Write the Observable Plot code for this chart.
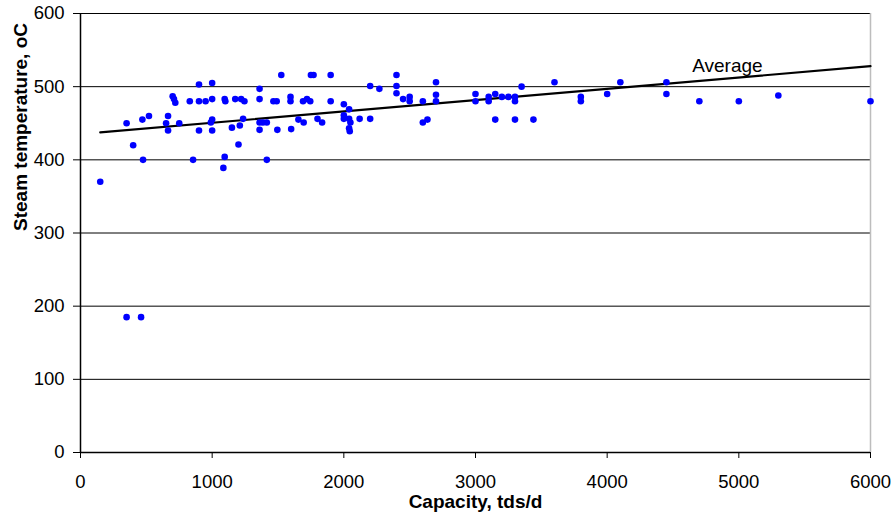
<!DOCTYPE html>
<html>
<head>
<meta charset="utf-8">
<script src="https://cdn.jsdelivr.net/npm/d3@7"></script>
<script src="https://cdn.jsdelivr.net/npm/@observablehq/plot@0.6"></script>
<style>
  html, body { margin: 0; padding: 0; background: #fff; }
</style>
</head>
<body>
<div id="chart"></div>
<script>
// Capacity (tds/d) of each boiler
const capacity = [
  150, 350, 400, 475, 470, 520, 665, 650, 665, 700, 710, 720, 750, 830, 855,
  900, 900, 900, 950, 1000, 1000, 1000, 990, 1000, 1095, 1085, 1095, 1100, 1150, 1175,
  1200, 1210, 1220, 1235, 1245, 1360, 1360, 1360, 1385, 1415, 1360, 1415, 1465, 1490, 1495,
  1525, 1750, 1770, 1900, 1595, 1595, 1600, 1655, 1695, 1690, 1720, 1745, 1800, 1835, 1900,
  2000, 2040, 2000, 2000, 2040, 2050, 2040, 2045, 2120, 2200, 2200, 2270, 2400, 2400, 2400,
  2450, 2500, 2500, 2600, 2600, 2635, 2700, 2700, 2700, 3000, 3000, 3100, 3100, 3150, 3150,
  3200, 3250, 3300, 3300, 3300, 3350, 3440, 3600, 3800, 3800, 4000, 4100, 4450, 4450, 4700,
  5000, 5300, 6000, 350, 460
];
// Steam temperature (oC) of each boiler
const steamTemp = [
  370, 450, 420, 400, 455, 460, 460, 450, 440, 487, 483, 478, 450, 480, 400,
  503, 480, 440, 480, 505, 483, 455, 451, 440, 404, 389, 483, 480, 444, 483,
  421, 447, 483, 456, 480, 497, 483, 451, 451, 451, 441, 400, 480, 480, 441,
  516, 516, 516, 516, 486, 480, 442, 455, 451, 480, 483, 480, 456, 451, 480,
  476, 469, 461, 456, 456, 451, 443, 439, 456, 456, 501, 497, 516, 501, 491,
  483, 486, 480, 480, 451, 455, 506, 489, 480, 490, 480, 486, 480, 490, 455,
  486, 486, 486, 480, 455, 500, 455, 506, 486, 480, 490, 506, 506, 490, 480,
  480, 488, 480, 185, 185
];
// "Average" trend line end points
const avgX = [150, 6000];
const avgY = [437.5, 528];
const avgLabel = "Average";
const avgLabelX = 4646;
const avgLabelY = 520.5;

const xTicks = [0, 1000, 2000, 3000, 4000, 5000, 6000];
const yTicks = [0, 100, 200, 300, 400, 500, 600];
const xTitle = "Capacity, tds/d";
const yTitle = "Steam temperature, oC";

const points = capacity.map((c, i) => ({c, t: steamTemp[i]}));
const avg = avgX.map((x, i) => ({x, y: avgY[i]}));

const chart = Plot.plot({
  width: 893,
  height: 515,
  marginLeft: 80,
  marginRight: 23,
  marginTop: 13,
  marginBottom: 63,
  style: {
    fontFamily: "'Liberation Sans', Arial, sans-serif",
    fontSize: "18.5px",
    color: "#000",
    background: "#fff",
    overflow: "visible"
  },
  x: {domain: [0, 6000]},
  y: {domain: [0, 600]},
  marks: [
    Plot.gridY(yTicks.filter(d => d > 0), {stroke: "#000", strokeOpacity: 1, strokeWidth: 1}),
    Plot.ruleX([6000], {y1: 0, y2: 600, stroke: "#bdbdbd", strokeWidth: 1.5}),
    Plot.ruleY([0], {stroke: "#000", strokeWidth: 1.5}),
    Plot.ruleX([0], {stroke: "#000", strokeWidth: 1.5}),
    Plot.axisX({ticks: xTicks, tickSize: 6, tickPadding: 16, tickFormat: d => String(d), label: null, fontSize: 18.5}),
    Plot.axisY({ticks: yTicks, tickSize: 7, tickPadding: 9, tickFormat: d => String(d), label: null, fontSize: 18.5}),
    Plot.line(avg, {x: "x", y: "y", stroke: "#000", strokeWidth: 2.2}),
    Plot.dot(points, {x: "c", y: "t", r: 3.3, fill: "#0000ff", stroke: "none"}),
    Plot.text([avgLabel], {x: () => avgLabelX, y: () => avgLabelY, text: d => d, textAnchor: "start", lineAnchor: "bottom", fontSize: 19, fill: "#000"}),
    Plot.text([xTitle], {text: d => d, frameAnchor: "bottom", dy: 42, lineAnchor: "top", fontWeight: "bold", fontSize: 19, fill: "#000"}),
    Plot.text([yTitle], {text: d => d, frameAnchor: "left", dx: -60, dy: -2, rotate: -90, fontWeight: "bold", fontSize: 19, fill: "#000"})
  ]
});
document.getElementById("chart").appendChild(chart);
</script>
</body>
</html>
